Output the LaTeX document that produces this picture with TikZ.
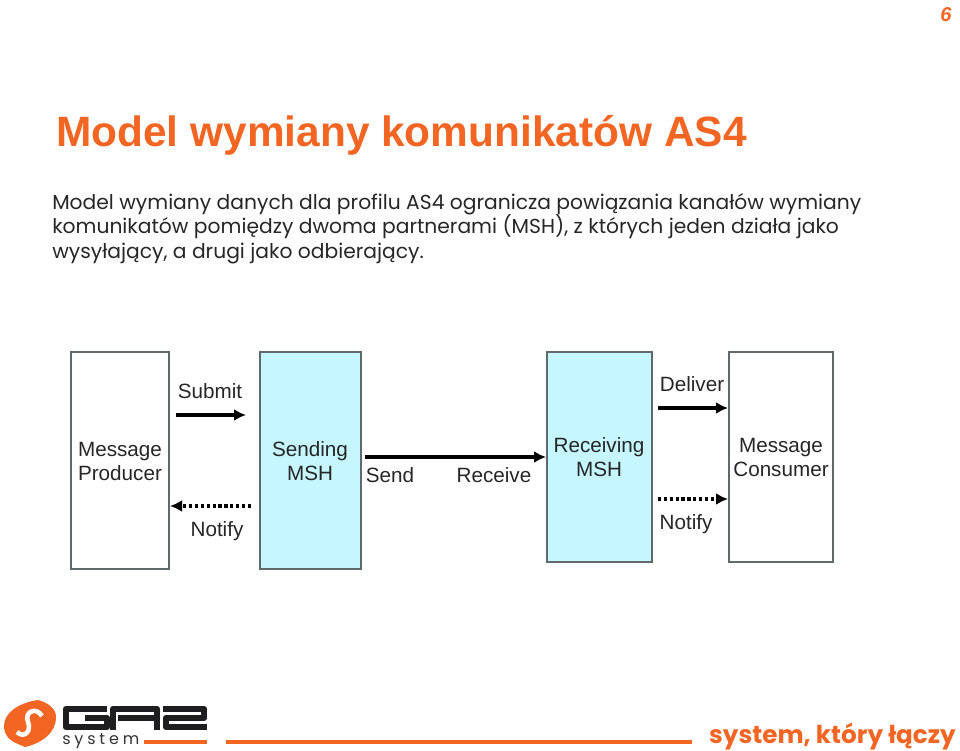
\documentclass[tikz,border=0pt]{standalone}
\usepackage{fontspec}
\setmainfont{Liberation Sans}
\newfontfamily\bodyfont{Poppins}
\usetikzlibrary{arrows.meta}
\definecolor{gazorange}{HTML}{F26522}
\definecolor{mshcyan}{HTML}{C6F6FF}
\definecolor{boxgray}{HTML}{606A6A}
\definecolor{gazblack}{HTML}{1E1E20}
\tikzset{
  box/.style={draw=boxgray, line width=1pt, fill=white, inner sep=0pt},
  msh/.style={box, fill=mshcyan},
  lbl/.style={font=\fontsize{15.5}{18}\selectfont, text=black!85, align=center, inner sep=0pt},
  flow/.style={-{Latex[length=9pt,width=9pt]}, line width=2.5pt, black},
  notify/.style={flow, dash pattern=on 2.4pt off 2pt},
  logo/.style={gazblack, line width=4.8pt, line join=round},
}
\begin{document}
\begin{tikzpicture}[x=0.75pt,y=-0.75pt]
   \useasboundingbox (0,0) rectangle (960,750);
   \node[font=\bfseries\fontsize{15}{18}\selectfont, text=gazorange, inner sep=0pt] (page) at (946,15) {\itshape 6};
   \node[font=\bfseries\fontsize{31.8}{36}\selectfont, text=gazorange, anchor=west, inner sep=0pt] (title) at (56,135) {Model wymiany komunikatów AS4};
   \node[font=\bodyfont\fontsize{15.2}{18.4}\selectfont, text=black!85, anchor=north west, align=left, inner sep=0pt] (intro) at (52,193)
     {Model wymiany danych dla profilu AS4 ogranicza powiązania kanałów wymiany\\
      komunikatów pomiędzy dwoma partnerami (MSH), z których jeden działa jako\\
      wysyłający, a drugi jako odbierający.};
   % boxes
   \foreach \name/\style/\xa/\xb/\yb in {producer/box/71/169/569,sending/msh/260/361/569,receiving/msh/547/652/562,consumer/box/729/833/562} {
       \draw[\style] (\xa,352) rectangle (\xb,\yb);
       \coordinate (\name) at ({(\xa+\xb)/2},0);
   }
   \foreach \name/\x/\y/\word in {lproducer/120/461/{Message\\Producer},lsending/310/461/{Sending\\MSH},lreceiving/599/457/{Receiving\\MSH},lconsumer/781/457/{Message\\Consumer},submit/210/391/{Submit},send/390/475/{Send},receive/494/475/{Receive},deliver/692/384/{Deliver},notifya/217/531/{Notify},notifyb/686/524/{Notify}} {
       \node[lbl] (\name) at (\x,\y) {\word};
   }
   % arrows
   \foreach \name/\x/\y in {a/176/415,b/246/415,c/251/506,d/170/506,e/365/457,f/546/457,g/658/408,h/728/408,i/658/499,j/728/499} {
       \coordinate (\name) at (\x,\y);
   }
   \draw[flow] (a) -- (b);
   \draw[notify] (c) -- (d);
   \draw[flow] (e) -- (f);
   \draw[flow] (g) -- (h);
   \draw[notify] (i) -- (j);
   % logo
   \fill[gazorange] (38,700) .. controls (18,703) and (4,713) .. (4,726)
      .. controls (4,735) and (10,741) .. (18,744) -- (25,747)
      .. controls (42,743) and (56,733) .. (56,717)
      .. controls (56,709) and (49,703) .. (38,700) -- cycle;
   \draw[white, line width=3.4pt] (42,716) .. controls (36,706) and (24,712) .. (28,722)
      .. controls (32,731) and (24,739) .. (17,732);
   \draw[logo] (107,709) -- (66,709) -- (66,727) -- (107,727) -- (107,718) -- (85,718);
   \draw[logo] (113,730) -- (113,709) -- (157,709) -- (157,730);
   \draw[logo] (118,718) -- (157,718);
   \draw[logo] (163,709) -- (204,709) -- (204,718) -- (166,718) -- (166,727) -- (207,727);
   % footer
   \draw[gazorange, line width=2.4pt] (144,742) -- (207,742);
   \draw[gazorange, line width=2.4pt] (226,742) -- (692,742);
   \node[font=\bodyfont\bfseries\fontsize{18.5}{24}\selectfont, text=gazorange, anchor=east, inner sep=0pt] (motto) at (956,736) {system, który łączy};
   \node[font=\bodyfont\fontsize{12}{14}\addfontfeature{LetterSpace=24}\selectfont, text=black!80, anchor=west, inner sep=0pt] (system) at (62,741) {system};
\end{tikzpicture}
\end{document}
